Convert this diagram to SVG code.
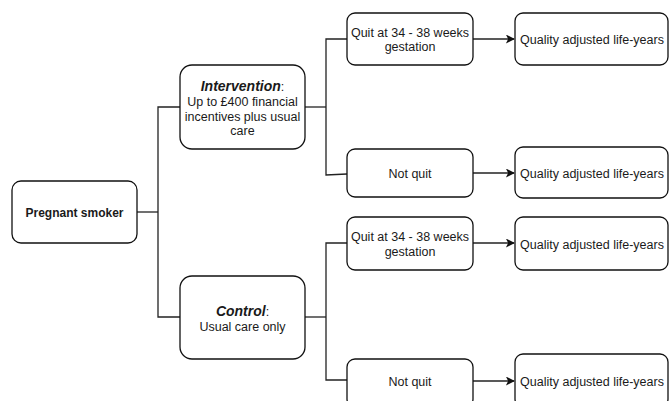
<svg xmlns="http://www.w3.org/2000/svg" width="669" height="401" viewBox="0 0 669 401">
<defs>
<style>
.box{fill:#fff;stroke:#111;stroke-width:1.3}
.t{font-family:"Liberation Sans",Arial,sans-serif;font-size:12.5px;fill:#1a1a1a;text-anchor:middle}
.b{font-weight:bold;font-size:12px}
.h{font-weight:bold;font-style:italic;font-size:14px}
.c{fill:none;stroke:#222;stroke-width:1.3}
</style>
<marker id="arr" viewBox="0 0 10 10" refX="9" refY="5" markerWidth="10" markerHeight="9" markerUnits="userSpaceOnUse" orient="auto">
<path d="M0,0 L10,5 L0,10 L2.5,5 Z" fill="#111"/>
</marker>
</defs>
<rect width="669" height="401" fill="#fff"/>
<g id="connectors">
<polyline class="c" points="137,212 158,212"/>
<polyline class="c" points="180,107 158,107 158,317 180,317"/>
<polyline class="c" points="305,107 326,107"/>
<polyline class="c" points="347,39 326,39 326,175 347,174"/>
<polyline class="c" points="305,317 326,317"/>
<polyline class="c" points="347,243 326,243 326,380 347,380"/>
<line class="c" x1="473" y1="39" x2="514" y2="39" marker-end="url(#arr)"/>
<line class="c" x1="473" y1="173" x2="514" y2="173" marker-end="url(#arr)"/>
<line class="c" x1="473" y1="243" x2="514" y2="243" marker-end="url(#arr)"/>
<line class="c" x1="473" y1="381" x2="514" y2="381" marker-end="url(#arr)"/>
</g>
<g id="pregnant">
<rect class="box" x="12" y="181" width="125" height="62" rx="9"/>
<text class="t b" x="74.5" y="217">Pregnant smoker</text>
</g>
<g id="intervention">
<rect class="box" x="180" y="65" width="125" height="84" rx="12"/>
<text class="t" x="242.5" y="91"><tspan class="h">Intervention</tspan>:</text>
<text class="t" x="242.5" y="106">Up to £400 financial</text>
<text class="t" x="242.5" y="121">incentives plus usual</text>
<text class="t" x="242.5" y="135">care</text>
</g>
<g id="control">
<rect class="box" x="180" y="276" width="125" height="83" rx="12"/>
<text class="t" x="242.5" y="316"><tspan class="h">Control</tspan>:</text>
<text class="t" x="242.5" y="331">Usual care only</text>
</g>
<g id="quit1">
<rect class="box" x="347" y="13" width="126" height="52" rx="8"/>
<text class="t" x="410" y="37">Quit at 34 - 38 weeks</text>
<text class="t" x="410" y="51">gestation</text>
</g>
<g id="notquit1">
<rect class="box" x="347" y="149" width="126" height="48" rx="8"/>
<text class="t" x="410" y="178">Not quit</text>
</g>
<g id="quit2">
<rect class="box" x="347" y="217" width="126" height="53" rx="8"/>
<text class="t" x="410" y="241">Quit at 34 - 38 weeks</text>
<text class="t" x="410" y="256">gestation</text>
</g>
<g id="notquit2">
<rect class="box" x="347" y="359" width="126" height="48" rx="8"/>
<text class="t" x="410" y="386">Not quit</text>
</g>
<g id="qaly1">
<rect class="box" x="515" y="13" width="153" height="52" rx="8"/>
<text class="t" x="592" y="44">Quality adjusted life-years</text>
</g>
<g id="qaly2">
<rect class="box" x="515" y="147" width="153" height="51" rx="8"/>
<text class="t" x="592" y="178">Quality adjusted life-years</text>
</g>
<g id="qaly3">
<rect class="box" x="515" y="217" width="153" height="53" rx="8"/>
<text class="t" x="592" y="249">Quality adjusted life-years</text>
</g>
<g id="qaly4">
<rect class="box" x="515" y="354" width="153" height="53" rx="8"/>
<text class="t" x="592" y="386">Quality adjusted life-years</text>
</g>
</svg>
